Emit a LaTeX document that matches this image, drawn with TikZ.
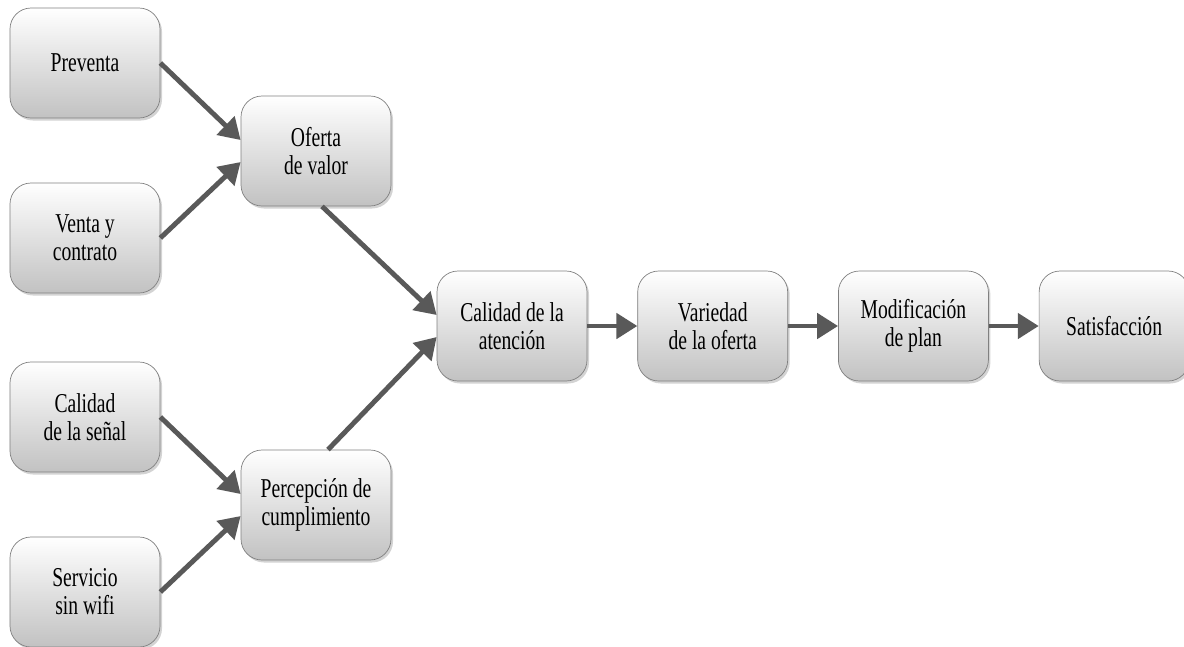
\documentclass[tikz,border=0pt]{standalone}
\usepackage{fontspec}
\setmainfont[FakeStretch=0.72]{Liberation Serif}
\usetikzlibrary{positioning,arrows.meta,shadows}

\begin{document}
\begin{tikzpicture}[
	box/.style={rectangle, rounded corners=0.42cm, draw=black!50, minimum width=3cm, minimum height=2.2cm, align=center, font=\fontsize{15.5}{16}\selectfont, top color=white, middle color=black!5, bottom color=black!24, drop shadow={shadow xshift=0.04cm, shadow yshift=-0.05cm, opacity=0.35}},
	arr/.style={draw=black!65, line width=2.8pt, -{Triangle[length=0.42cm, width=0.5cm]}}
	]
	\useasboundingbox (0,0) rectangle (23.68,-12.92);
	\node[box] (pre) at (1.7,-1.26) {Preventa};
	\node[box] (ven) at (1.7,-4.76) {Venta y\\contrato};
	\node[box] (sen) at (1.7,-8.34) {Calidad\\de la señal};
	\node[box] (ser) at (1.7,-11.84) {Servicio\\sin wifi};
	\node[box] (ofe) at (6.32,-3.02) {Oferta\\de valor};
	\node[box] (per) at (6.32,-10.1) {Percepción de\\cumplimiento};
	\node[box] (cal) at (10.24,-6.52) {Calidad de la\\atención};
	\node[box, right=1cm of cal] (var) {Variedad\\de la oferta};
	\node[box, right=1cm of var] (mod) {Modificación\\de plan};
	\node[box, right=1cm of mod] (sat) {Satisfacción};
	\draw[arr] (pre.east) -- ([yshift=0.22cm]ofe.west);
	\draw[arr] (ven.east) -- ([yshift=-0.22cm]ofe.west);
	\draw[arr] (sen.east) -- ([yshift=0.22cm]per.west);
	\draw[arr] (ser.east) -- ([yshift=-0.22cm]per.west);
	\draw[arr] ([xshift=0.12cm]ofe.south) -- ([yshift=0.22cm]cal.west);
	\draw[arr] ([xshift=0.24cm]per.north) -- ([yshift=-0.22cm]cal.west);
	\draw[arr] (cal) -- (var);
	\draw[arr] (var) -- (mod);
	\draw[arr] (mod) -- (sat);
\end{tikzpicture}
\end{document}
